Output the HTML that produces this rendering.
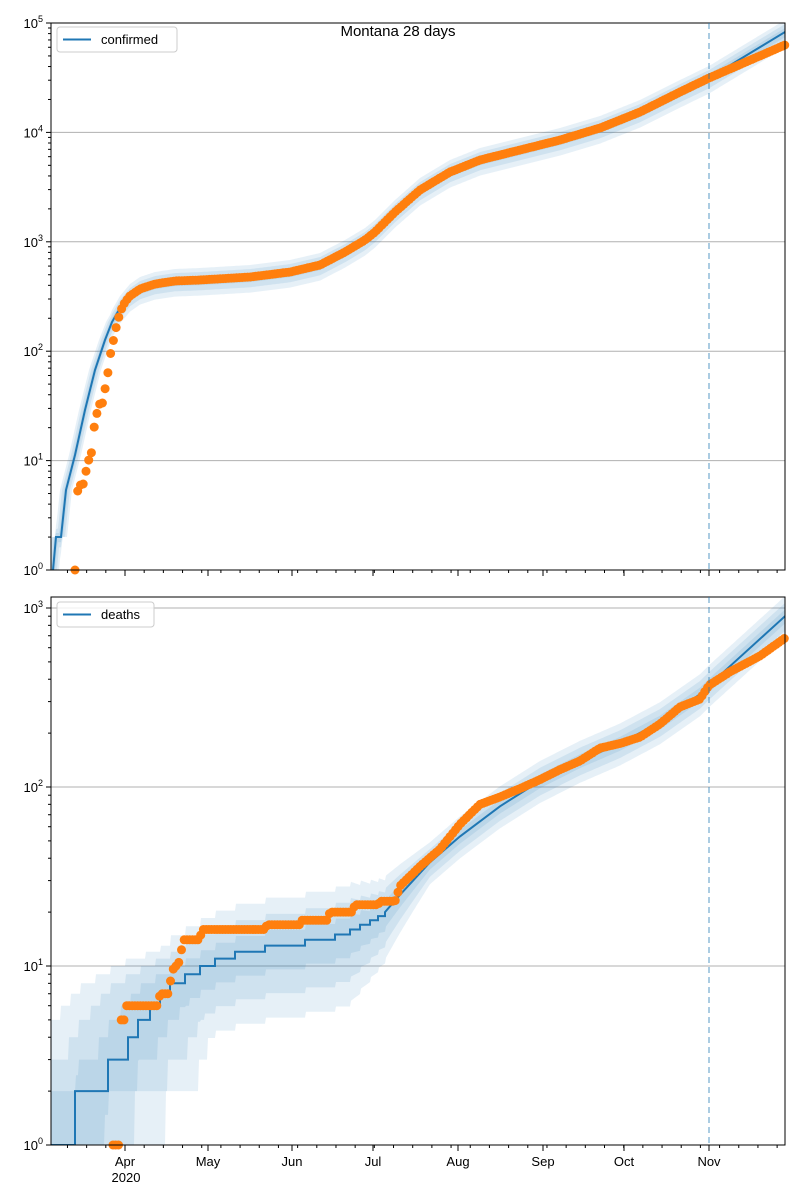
<!DOCTYPE html><html><head><style>body{margin:0;background:#fff}svg{display:block;font-family:"Liberation Sans","DejaVu Sans",sans-serif}</style></head><body>
<svg id="s" width="800" height="1200" xmlns="http://www.w3.org/2000/svg"></svg>
<script>
const S=document.getElementById('s');let h='';
const L=51,R=785,C='#1f77b4',O='#ff7f0e';
function interp(pts,x){if(x<=pts[0][0])return pts[0][1];for(let i=1;i<pts.length;i++){if(x<=pts[i][0]){const a=pts[i-1],b=pts[i];return a[1]+(b[1]-a[1])*(x-a[0])/(b[0]-a[0]);}}return pts[pts.length-1][1];}
function axes(top,bot,dec,maxd){
 for(let d=0;d<=maxd;d++){const y=bot-d*dec;if(y<top-1)break;h+=`<line x1="${L}" x2="${R}" y1="${y}" y2="${y}" stroke="#b0b0b0" stroke-width="1"/>`;
  h+=`<line x1="${L}" x2="${L-5}" y1="${y}" y2="${y}" stroke="#000"/>`;
  h+=`<text x="${L-8}" y="${y+5}" font-size="13" text-anchor="end">10<tspan dy="-6" font-size="9">${d}</tspan></text>`;
  for(let m=2;m<10;m++){const yy=y-Math.log10(m)*dec;if(yy<top)break;h+=`<line x1="${L}" x2="${L-3}" y1="${yy}" y2="${yy}" stroke="#000"/>`;}
 }
}
function frame(top,bot,labels){
 h+=`<rect x="${L}" y="${top}" width="${R-L}" height="${bot-top}" fill="none" stroke="#000"/>`;
 const months=[[125,'Apr'],[208,'May'],[292,'Jun'],[373,'Jul'],[458,'Aug'],[543,'Sep'],[624,'Oct'],[709,'Nov']];
 for(const [x,t] of months){h+=`<line x1="${x}" x2="${x}" y1="${bot}" y2="${bot+6}" stroke="#000"/>`;if(labels)h+=`<text x="${x}" y="${bot+21}" font-size="13" text-anchor="middle">${t}</text>`;}
 for(let x=125-7*2.74*3;x<R;x+=7*2.74){if(x>L)h+=`<line x1="${x}" x2="${x}" y1="${bot}" y2="${bot+3}" stroke="#000"/>`;}
 if(labels)h+=`<text x="126" y="${bot+37}" font-size="13" text-anchor="middle">2020</text>`;
 h+=`<line x1="709" x2="709" y1="${top}" y2="${bot}" stroke="${C}" stroke-opacity="0.5" stroke-width="1.5" stroke-dasharray="6,4"/>`;
}
function bands(line,wf,sf,lf,top,bot,clipId){
 h+=`<defs><clipPath id="${clipId}"><rect x="${L}" y="${top}" width="${R-L}" height="${bot-top}"/></clipPath></defs><g clip-path="url(#${clipId})">`;
 for(const k of [1,0.66,0.33]){let up=[],dn=[];for(let x=L;x<=R+60;x+=1){const y=interp(line,x),w=wf(x)*k,s=sf(x)*k;
   const yu=Math.min(y-w,interp(line,x+s)),yd=Math.max(y+w*lf(x),interp(line,x-s));
   up.push(`${x},${yu.toFixed(1)}`);dn.unshift(`${x},${yd.toFixed(1)}`);}
  h+=`<polygon points="${up.join(' ')} ${dn.join(' ')}" fill="${C}" fill-opacity="0.11"/>`;}
 h+='</g>';
}
// TOP
const T1=23,B1=570,D1=109.4;
axes(T1,B1,D1,5);
const l1=[[0,700],[51,600],[53,570],[56,537],[61,537],[66,490],[75,455],[85,410],[95,370],[105,340],[112,322],[120,308],[130,296],[140,289],[155,284],[175,281],[200,280],[250,277],[290,272],[320,265],[345,252],[365,240],[375,232],[395,212],[420,190],[450,172],[480,160],[520,150],[560,140],[600,128],[640,112],[680,92],[709,78],[785,32],[850,0]];
bands(l1,x=>12,x=>x<130?6:0,x=>1.3,T1,B1,'c1');
h+=`<polyline points="${l1.map(p=>p.join(',')).join(' ')}" fill="none" stroke="${C}" stroke-width="2" clip-path="url(#c1)"/>`;
const d1=[[75,570],[77,493],[80,485],[83,485],[86,471],[88,461],[91,457],[94,428],[97,413],[100,403],[103,403],[106,383],[108,372],[110,356],[112,348],[114,337],[116,328],[118,320],[121,310],[125,302],[130,296],[140,289],[155,284],[175,281],[200,280],[250,277],[290,272],[320,265],[345,252],[365,240],[375,232],[395,212],[420,190],[450,172],[480,160],[520,150],[560,140],[600,128],[640,112],[680,92],[709,78],[785,45]];
for(let x=75;x<=R;x+=2.74){const y=interp(d1,x);h+=`<circle cx="${x.toFixed(1)}" cy="${y.toFixed(1)}" r="4.5" fill="${O}"/>`;}
frame(T1,B1,false);
// BOTTOM
const T2=597,B2=1145,D2=179;
axes(T2,B2,D2,3);
const v=n=>B2-Math.log10(n)*D2;
const steps=[[51,1],[75,2],[108,3],[128,4],[138,5],[150,6],[160,7],[170,8],[185,9],[200,10],[215,11],[235,12],[265,13],[305,14],[335,15],[350,16],[360,17],[370,18],[378,19],[385,20]];
let l2=[[0,1250],[50.5,1250]];for(let i=0;i<steps.length;i++){const [x,n]=steps[i];if(i>0)l2.push([x,v(steps[i-1][1])]);l2.push([x,v(n)]);}
l2=l2.concat([[400,v(25)],[430,v(38)],[460,v(53)],[500,v(78)],[540,v(108)],[580,v(140)],[620,v(175)],[660,v(230)],[700,v(330)],[709,v(370)],[785,v(900)],[860,v(2500)]]);
bands(l2,x=>x<350?48:x<430?48-(x-350)*0.35:20,x=>x<200?90:x<260?90-(x-200)*1.5:0,x=>x<350?1.5:x<430?1.5-(x-350)*0.005:1.1,T2,B2,'c2');
h+=`<polyline points="${l2.map(p=>p[0]+','+p[1].toFixed(1)).join(' ')}" fill="none" stroke="${C}" stroke-width="2" clip-path="url(#c2)"/>`;
const dd=[[113,1],[119,1],[119.5,5],[124,5],[124.5,6],[158,6],[160,7],[168,7],[170,8],[174,10],[178,10],[181,12],[184,14],[198,14],[201,15],[203,16],[265,16],[267,17],[300,17],[302,18],[327,18],[330,20],[352,20],[355,22],[378,22],[380,23],[395,23],[400,28],[420,36],[440,45],[460,62],[480,80],[500,88],[520,98],[540,110],[560,125],[580,140],[600,165],[620,175],[640,190],[660,225],[680,280],[700,310],[709,370],[730,440],[760,540],[785,680]];
const dl=dd.map(p=>[p[0],Math.log10(p[1])]);
for(let x=113;x<=R;x+=2.74){const y=B2-interp(dl,x)*D2;h+=`<circle cx="${x.toFixed(1)}" cy="${y.toFixed(1)}" r="4.5" fill="${O}"/>`;}
frame(T2,B2,true);
function leg(y,t,w){h+=`<rect x="57" y="${y}" width="${w}" height="25" rx="3" fill="#fff" fill-opacity="0.8" stroke="#ccc"/><line x1="63" x2="91" y1="${y+12.5}" y2="${y+12.5}" stroke="${C}" stroke-width="2"/><text x="101" y="${y+17}" font-size="13">${t}</text>`;}
leg(27,'confirmed',120);leg(602,'deaths',97);
h+=`<text x="398" y="36" font-size="15" text-anchor="middle">Montana 28 days</text>`;
S.innerHTML=h;
</script></body></html>
